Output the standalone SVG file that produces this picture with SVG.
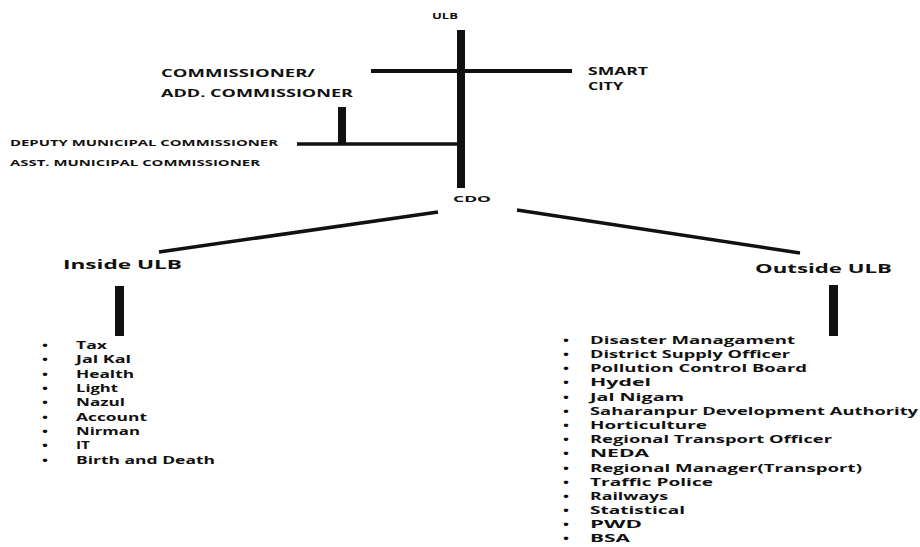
<svg xmlns="http://www.w3.org/2000/svg" width="920" height="547" viewBox="0 0 920 547">
<style>
text{font-family:"Open Sans","Liberation Sans",sans-serif;font-weight:bold;fill:#111}
.s{font-size:8.5px}
.m{font-size:10px}
.h{font-size:13px}
.li{font-size:10.2px}
.b{font-size:10px}
.bar{fill:#111}
.ln{stroke:#111;fill:none}
</style>
<rect width="920" height="547" fill="#fff"/>
<g id="connectors">
<rect class="bar" x="457" y="30" width="8" height="158"/>
<line class="ln" x1="371" y1="71" x2="572" y2="71" stroke-width="4"/>
<line class="ln" x1="297" y1="144" x2="461" y2="144" stroke-width="3.5"/>
<rect class="bar" x="338" y="107" width="8" height="37"/>
<line class="ln" x1="438" y1="212" x2="159" y2="252" stroke-width="3.5"/>
<line class="ln" x1="517" y1="210" x2="800" y2="253" stroke-width="3.5"/>
<rect class="bar" x="115" y="286" width="9" height="50"/>
<rect class="bar" x="829" y="285" width="9" height="51"/>
</g>
<g id="ulb"><text class="s" x="432" y="19" textLength="26" lengthAdjust="spacingAndGlyphs">ULB</text></g>
<g id="commissioner">
<text class="m" x="161" y="77" textLength="154" lengthAdjust="spacingAndGlyphs">COMMISSIONER/</text>
<text class="m" x="161" y="97" textLength="192" lengthAdjust="spacingAndGlyphs">ADD. COMMISSIONER</text>
</g>
<g id="smart-city">
<text class="m" x="588" y="75" textLength="60" lengthAdjust="spacingAndGlyphs">SMART</text>
<text class="m" x="588" y="90" textLength="35" lengthAdjust="spacingAndGlyphs">CITY</text>
</g>
<g id="deputy">
<text class="s" x="10" y="146" textLength="268" lengthAdjust="spacingAndGlyphs">DEPUTY MUNICIPAL COMMISSIONER</text>
<text class="s" x="10" y="166" textLength="250" lengthAdjust="spacingAndGlyphs">ASST. MUNICIPAL COMMISSIONER</text>
</g>
<g id="cdo"><text class="s" x="453" y="202" textLength="38" lengthAdjust="spacingAndGlyphs">CDO</text></g>
<g id="inside-ulb">
<text class="h" x="63" y="269" textLength="119" lengthAdjust="spacingAndGlyphs">Inside ULB</text>
<text class="b" x="42" y="349" textLength="6" lengthAdjust="spacingAndGlyphs">•</text><text class="li" x="76" y="349" textLength="31" lengthAdjust="spacingAndGlyphs">Tax</text>
<text class="b" x="42" y="363" textLength="6" lengthAdjust="spacingAndGlyphs">•</text><text class="li" x="76" y="363" textLength="55" lengthAdjust="spacingAndGlyphs">Jal Kal</text>
<text class="b" x="42" y="378" textLength="6" lengthAdjust="spacingAndGlyphs">•</text><text class="li" x="76" y="378" textLength="58" lengthAdjust="spacingAndGlyphs">Health</text>
<text class="b" x="42" y="392" textLength="6" lengthAdjust="spacingAndGlyphs">•</text><text class="li" x="76" y="392" textLength="42" lengthAdjust="spacingAndGlyphs">Light</text>
<text class="b" x="42" y="406" textLength="6" lengthAdjust="spacingAndGlyphs">•</text><text class="li" x="76" y="406" textLength="49" lengthAdjust="spacingAndGlyphs">Nazul</text>
<text class="b" x="42" y="421" textLength="6" lengthAdjust="spacingAndGlyphs">•</text><text class="li" x="76" y="421" textLength="71" lengthAdjust="spacingAndGlyphs">Account</text>
<text class="b" x="42" y="435" textLength="6" lengthAdjust="spacingAndGlyphs">•</text><text class="li" x="76" y="435" textLength="64" lengthAdjust="spacingAndGlyphs">Nirman</text>
<text class="b" x="42" y="449" textLength="6" lengthAdjust="spacingAndGlyphs">•</text><text class="li" x="76" y="449" textLength="14" lengthAdjust="spacingAndGlyphs">IT</text>
<text class="b" x="42" y="464" textLength="6" lengthAdjust="spacingAndGlyphs">•</text><text class="li" x="76" y="464" textLength="139" lengthAdjust="spacingAndGlyphs">Birth and Death</text>
</g>
<g id="outside-ulb">
<text class="h" x="755" y="273" textLength="137" lengthAdjust="spacingAndGlyphs">Outside ULB</text>
<text class="b" x="563" y="344" textLength="6" lengthAdjust="spacingAndGlyphs">•</text><text class="li" x="590" y="344" textLength="205" lengthAdjust="spacingAndGlyphs">Disaster Managament</text>
<text class="b" x="563" y="358" textLength="6" lengthAdjust="spacingAndGlyphs">•</text><text class="li" x="590" y="358" textLength="200" lengthAdjust="spacingAndGlyphs">District Supply Officer</text>
<text class="b" x="563" y="372" textLength="6" lengthAdjust="spacingAndGlyphs">•</text><text class="li" x="590" y="372" textLength="217" lengthAdjust="spacingAndGlyphs">Pollution Control Board</text>
<text class="b" x="563" y="386" textLength="6" lengthAdjust="spacingAndGlyphs">•</text><text class="li" x="590" y="386" textLength="61" lengthAdjust="spacingAndGlyphs">Hydel</text>
<text class="b" x="563" y="401" textLength="6" lengthAdjust="spacingAndGlyphs">•</text><text class="li" x="590" y="401" textLength="94" lengthAdjust="spacingAndGlyphs">Jal Nigam</text>
<text class="b" x="563" y="415" textLength="6" lengthAdjust="spacingAndGlyphs">•</text><text class="li" x="590" y="415" textLength="328" lengthAdjust="spacingAndGlyphs">Saharanpur Development Authority</text>
<text class="b" x="563" y="429" textLength="6" lengthAdjust="spacingAndGlyphs">•</text><text class="li" x="590" y="429" textLength="117" lengthAdjust="spacingAndGlyphs">Horticulture</text>
<text class="b" x="563" y="443" textLength="6" lengthAdjust="spacingAndGlyphs">•</text><text class="li" x="590" y="443" textLength="242" lengthAdjust="spacingAndGlyphs">Regional Transport Officer</text>
<text class="b" x="563" y="457" textLength="6" lengthAdjust="spacingAndGlyphs">•</text><text class="li" x="590" y="457" textLength="59" lengthAdjust="spacingAndGlyphs">NEDA</text>
<text class="b" x="563" y="472" textLength="6" lengthAdjust="spacingAndGlyphs">•</text><text class="li" x="590" y="472" textLength="272" lengthAdjust="spacingAndGlyphs">Regional Manager(Transport)</text>
<text class="b" x="563" y="486" textLength="6" lengthAdjust="spacingAndGlyphs">•</text><text class="li" x="590" y="486" textLength="123" lengthAdjust="spacingAndGlyphs">Traffic Police</text>
<text class="b" x="563" y="500" textLength="6" lengthAdjust="spacingAndGlyphs">•</text><text class="li" x="590" y="500" textLength="78" lengthAdjust="spacingAndGlyphs">Railways</text>
<text class="b" x="563" y="514" textLength="6" lengthAdjust="spacingAndGlyphs">•</text><text class="li" x="590" y="514" textLength="95" lengthAdjust="spacingAndGlyphs">Statistical</text>
<text class="b" x="563" y="528" textLength="6" lengthAdjust="spacingAndGlyphs">•</text><text class="li" x="590" y="528" textLength="52" lengthAdjust="spacingAndGlyphs">PWD</text>
<text class="b" x="563" y="542" textLength="6" lengthAdjust="spacingAndGlyphs">•</text><text class="li" x="590" y="542" textLength="40" lengthAdjust="spacingAndGlyphs">BSA</text>
</g>
</svg>
